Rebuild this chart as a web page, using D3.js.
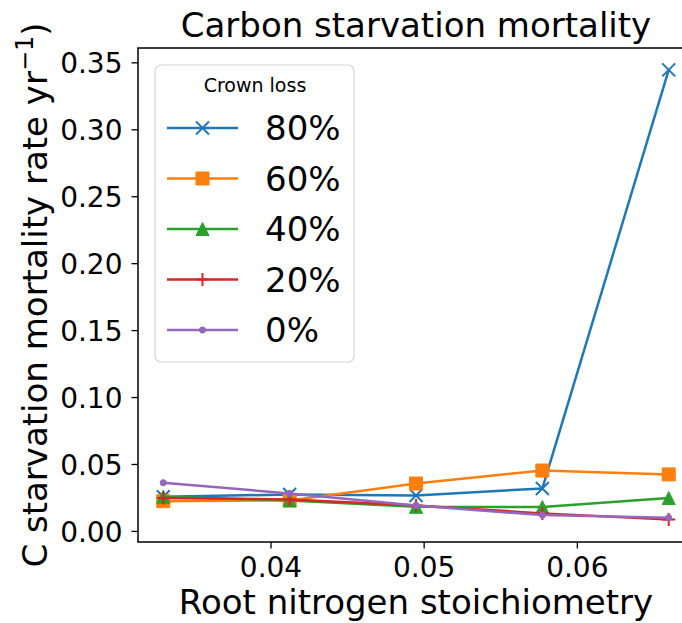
<!DOCTYPE html>
<html>
<head>
<meta charset="utf-8">
<script src="https://cdn.jsdelivr.net/npm/d3@7"></script>
<style>
body { margin: 0; background: #fff; }
text { font-family: "DejaVu Sans", sans-serif; fill: #000; }
</style>
</head>
<body>
<div id="chart"></div>
<script>
// data
const rootN = [0.033, 0.04125, 0.0495, 0.05775, 0.066];
const crownLoss = ["80%", "60%", "40%", "20%", "0%"];
const loss80 = [0.0255, 0.0272, 0.0265, 0.0317, 0.3444];
const loss60 = [0.0222, 0.0228, 0.0354, 0.0451, 0.0422];
const loss40 = [0.0255, 0.0228, 0.0180, 0.0178, 0.0246];
const loss20 = [0.0245, 0.0235, 0.0190, 0.0131, 0.0086];
const loss0  = [0.0360, 0.0280, 0.0190, 0.0118, 0.0098];
const xTicks = [0.04, 0.05, 0.06];
const yTicks = [0, 0.05, 0.10, 0.15, 0.20, 0.25, 0.30, 0.35];

const seriesValues = [loss80, loss60, loss40, loss20, loss0];
const colors = ["#1f77b4", "#ff7f0e", "#2ca02c", "#d62728", "#9467bd"];
const markers = ["x", "square", "triangle", "plus", "point"];

const width = 682, height = 623;
const plotL = 138, plotR = 694, plotT = 48, plotB = 542;

const x = d3.scaleLinear().domain([0.03135, 0.06765]).range([plotL, plotR]);
const y = d3.scaleLinear().domain([-0.00828, 0.36072]).range([plotB, plotT]);

const svg = d3.select("#chart").append("svg")
    .attr("width", width).attr("height", height);

// marker shapes, matplotlib-ish
function markerPath(kind) {
    const s = 6.5;
    if (kind === "x") return `M${-s},${-s}L${s},${s}M${-s},${s}L${s},${-s}`;
    if (kind === "plus") return `M${-s},0L${s},0M0,${-s}L0,${s}`;
    if (kind === "square") return `M${-s},${-s}H${s}V${s}H${-s}Z`;
    if (kind === "triangle") return `M0,${-s}L${s},${s}L${-s},${s}Z`;
    return d3.symbol(d3.symbolCircle, 30)();
}
function drawMarker(g, kind, color) {
    const p = g.append("path").attr("d", markerPath(kind));
    if (kind === "x" || kind === "plus") {
        p.attr("fill", "none").attr("stroke", color).attr("stroke-width", 2);
    } else {
        p.attr("fill", color).attr("stroke", color).attr("stroke-width", 1);
    }
}

// axes
const xAxis = svg.append("g").attr("transform", `translate(0,${plotB})`)
    .call(d3.axisBottom(x).tickValues(xTicks).tickFormat(d3.format(".2f")).tickSize(6.5).tickPadding(8));
const yAxis = svg.append("g").attr("transform", `translate(${plotL},0)`)
    .call(d3.axisLeft(y).tickValues(yTicks).tickFormat(d3.format(".2f")).tickSize(6.5).tickPadding(9));
[xAxis, yAxis].forEach(a => {
    a.select(".domain").remove();
    a.selectAll(".tick line").attr("stroke", "#000").attr("stroke-width", 1.3);
    a.selectAll(".tick text").attr("font-size", 28).attr("font-family", "DejaVu Sans");
});
xAxis.selectAll(".tick text").attr("dy", "0.74em");
yAxis.selectAll(".tick text").attr("dy", "0.36em");

// frame
svg.append("rect").attr("x", plotL).attr("y", plotT)
    .attr("width", plotR - plotL).attr("height", plotB - plotT)
    .attr("fill", "none").attr("stroke", "#000").attr("stroke-width", 1.5);

// lines
const line = d3.line().x((d, i) => x(rootN[i])).y(d => y(d));
seriesValues.forEach((vals, k) => {
    svg.append("path").datum(vals)
        .attr("d", line)
        .attr("fill", "none")
        .attr("stroke", colors[k])
        .attr("stroke-width", 2.5)
        .attr("stroke-linejoin", "round");
    vals.forEach((v, i) => {
        const g = svg.append("g").attr("transform", `translate(${x(rootN[i])},${y(v)})`);
        drawMarker(g, markers[k], colors[k]);
    });
});

// title and labels
svg.append("text").attr("x", (plotL + plotR) / 2).attr("y", 37)
    .attr("text-anchor", "middle").attr("font-size", 34)
    .text("Carbon starvation mortality");
svg.append("text").attr("x", (plotL + plotR) / 2).attr("y", 614)
    .attr("text-anchor", "middle").attr("font-size", 34)
    .text("Root nitrogen stoichiometry");
const yl = svg.append("text")
    .attr("transform", `translate(47,${(plotT + plotB) / 2}) rotate(-90)`)
    .attr("text-anchor", "middle").attr("font-size", 34);
yl.append("tspan").text("C starvation mortality rate yr");
yl.append("tspan").attr("font-size", 24).attr("dy", -14).text("\u22121");
yl.append("tspan").attr("dy", 14).text(")");

// legend
const lg = svg.append("g");
lg.append("rect").attr("x", 155).attr("y", 65).attr("width", 199).attr("height", 297)
    .attr("rx", 6).attr("fill", "#fff").attr("fill-opacity", 0.8)
    .attr("stroke", "#d6d6d6").attr("stroke-width", 1.2);
lg.append("text").attr("x", 255).attr("y", 92).attr("text-anchor", "middle")
    .attr("font-size", 19).text("Crown loss");
crownLoss.forEach((name, k) => {
    const cy = 128 + k * 50.5;
    const row = lg.append("g").attr("transform", `translate(0,${cy})`);
    row.append("line").attr("x1", 167).attr("x2", 238)
        .attr("stroke", colors[k]).attr("stroke-width", 2.5);
    drawMarker(row.append("g").attr("transform", "translate(202.5,0)"), markers[k], colors[k]);
    row.append("text").attr("x", 265).attr("y", 0).attr("dy", "0.36em")
        .attr("font-size", 34).text(name);
});
</script>
</body>
</html>
